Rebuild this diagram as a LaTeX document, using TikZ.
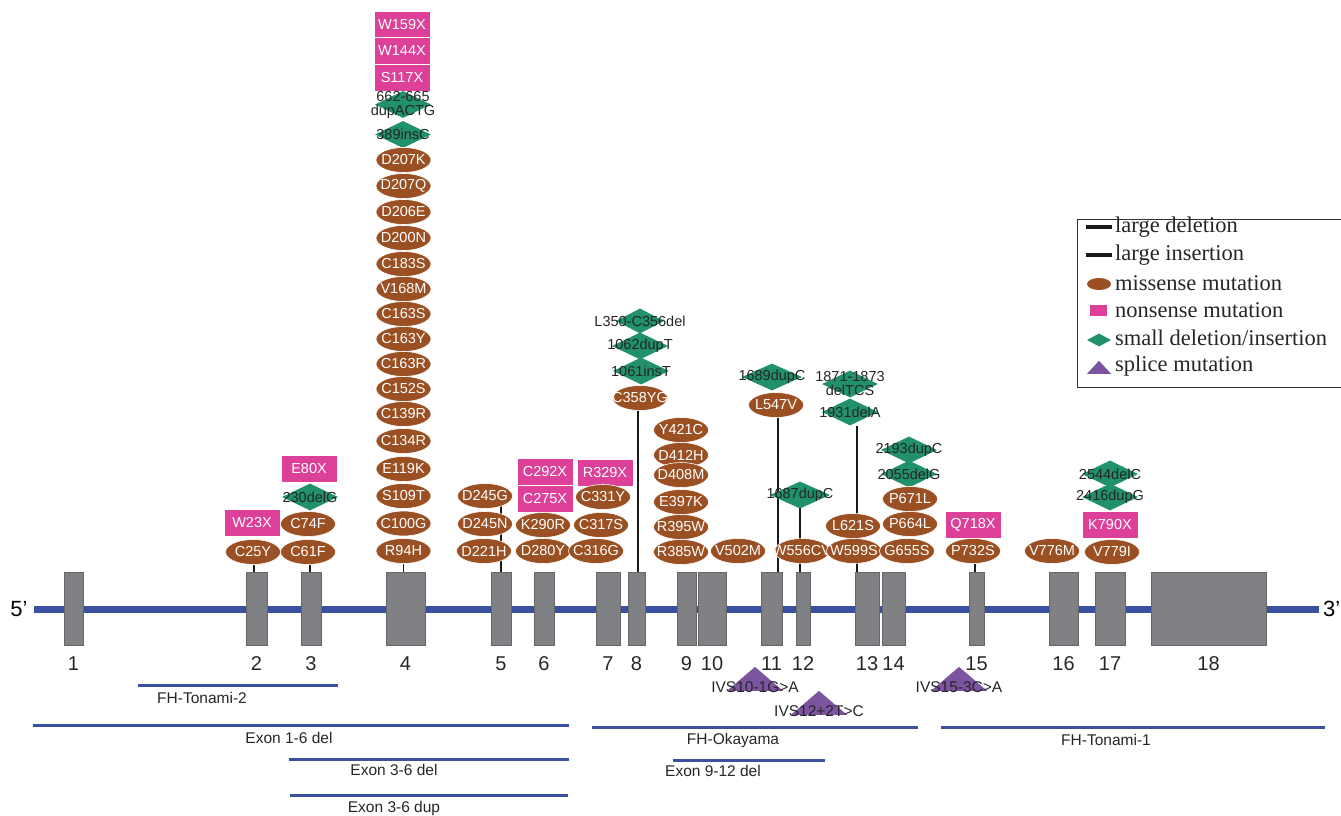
\documentclass[tikz,border=0pt]{standalone}
\usepackage{fontspec}
\setmainfont{Liberation Serif}
\setsansfont{Liberation Sans}
\usetikzlibrary{shapes.geometric,backgrounds}

\definecolor{bbblue}{RGB}{58,81,162}
\definecolor{misbrown}{RGB}{154,80,34}
\definecolor{nonpink}{RGB}{221,64,152}
\definecolor{indgreen}{RGB}{32,145,105}
\definecolor{splpurple}{RGB}{125,84,160}
\definecolor{exongray}{RGB}{128,129,133}

\begin{document}
\begin{tikzpicture}[x=1pt,y=-1pt,
    mtxt/.style={font=\sffamily\fontsize{14.5}{14}\selectfont, align=center, inner sep=0pt},
    mis/.style={ellipse, fill=misbrown, draw=white, line width=0.6pt, minimum width=55pt,
      minimum height=25pt, inner sep=0pt, label={[mtxt,text=white]center:#1}},
    non/.style={rectangle, fill=nonpink, draw=white, line width=0.6pt, minimum width=56pt,
      minimum height=27pt, inner sep=0pt, label={[mtxt,text=white]center:#1}},
    indel/.style={diamond, fill=indgreen, minimum width=56pt, minimum height=27pt,
      inner sep=0pt, label={[mtxt,text=black!85]center:#1}},
    splice/.style={isosceles triangle, shape border rotate=90, isosceles triangle stretches,
      minimum width=56pt, minimum height=24pt, fill=splpurple, inner sep=0pt},
    stxt/.style={font=\sffamily\fontsize{15.5}{15}\selectfont, text=black!85, inner sep=0pt},
    exon/.style={rectangle, fill=exongray, draw=black!60, line width=0.6pt,
      minimum height=73pt, inner sep=0pt},
    num/.style={font=\sffamily\fontsize{20}{20}\selectfont, text=black!85, inner sep=0pt},
    stem/.style={black!90, line width=1.6pt},
    bar/.style={bbblue, line width=3pt},
    btxt/.style={font=\sffamily\fontsize{15.5}{15}\selectfont, text=black!85, inner sep=0pt},
    lgd/.style={font=\fontsize{22.5}{22}\selectfont, text=black!85, anchor=west, inner sep=0pt},
  ]
  \useasboundingbox (0,0) rectangle (1341,816);

  % gene backbone and exons
  \node[font=\sffamily\fontsize{22}{22}\selectfont, inner sep=0pt] (p5) at (19,609) {5’};
  \node[font=\sffamily\fontsize{22}{22}\selectfont, inner sep=0pt, anchor=west] (p3) at (1323,609) {3’};
  \foreach \n/\xl/\xr in {1/64/83, 2/246/267, 3/301/321, 4/386/425, 5/491/511, 6/534/554,
      7/596/620, 8/628/645, 9/677/696, 10/698/726, 11/761/782, 12/796/810, 13/855/879,
      14/882/905, 15/969/984, 16/1049/1078, 17/1095/1125, 18/1151/1266} {
    \node[exon, minimum width={(\xr-\xl)*1pt}] (e\n) at ({(\xl+\xr)/2},608.5) {};
    \node[num] at (e\n.south |- 0,664) {\n};
  }

  % exon 2
  \node[non=W23X] (w23x) at (252,523) {};
  \node[mis=C25Y] (c25y) at (253,552) {};
  % exon 3
  \node[non=E80X] (e80x) at (309,469) {};
  \node[indel=230delG] (i230) at (310,497) {};
  \node[mis=C74F] (c74f) at (308,524) {};
  \node[mis=C61F] (c61f) at (308,552) {};
  % exon 4
  \node[non=W159X, minimum height=26.7pt] (w159x) at (402,24.3) {};
  \node[non=W144X, minimum height=26.7pt] (w144x) at (402,51) {};
  \node[non=S117X, minimum height=26.7pt] (s117x) at (402,77.7) {};
  \node[indel={662-665\\dupACTG}] (i662) at (403,104.5) {};
  \node[indel=389insC] (i389) at (403,134.5) {};
  \foreach \m/\y in {D207K/160, D207Q/186, D206E/212, D200N/238, C183S/264, V168M/289,
      C163S/314, C163Y/339, C163R/364, C152S/389, C139R/414, C134R/441, E119K/469,
      S109T/496, C100G/523.5} {
    \node[mis=\m] (m\m) at (403.5,\y) {};
  }
  \node[mis=R94H] (r94h) at (403.5,551) {};
  % exon 5
  \node[mis=D245G] (d245g) at (485,496) {};
  \node[mis=D245N] (d245n) at (485,524) {};
  \node[mis=D221H] (d221h) at (484,551) {};
  % exon 6
  \node[non=C292X] (c292x) at (545,472) {};
  \node[non=C275X] (c275x) at (545,499) {};
  \node[mis=K290R] (k290r) at (543,525) {};
  \node[mis=D280Y] (d280y) at (543,551) {};
  % exon 7
  \node[non=R329X] (r329x) at (605,473) {};
  \node[mis=C331Y] (c331y) at (603,497) {};
  \node[mis=C317S] (c317s) at (601,525) {};
  \node[mis=C316G] (c316g) at (596,551) {};
  % exon 8
  \node[indel=L350-C356del, minimum width=48pt, minimum height=25pt] (l350) at (640,321) {};
  \node[indel=1062dupT] (i1062) at (640,346) {};
  \node[indel=1061insT] (i1061) at (641,371) {};
  \node[mis=C358YG] (c358yg) at (640,398) {};
  % exon 9 and 10
  \foreach \m/\y in {Y421C/430, D412H/455, D408M/475, E397K/502, R395W/527, R385W/552} {
    \node[mis=\m] (m\m) at (681,\y) {};
  }
  \node[mis=V502M] (v502m) at (738,551) {};
  % exon 11 and 12
  \node[indel=1689dupC, minimum width=60pt] (i1689) at (772,377) {};
  \node[mis=L547V] (l547v) at (776,405) {};
  \node[indel=1687dupC, minimum width=60pt] (i1687) at (800,495) {};
  \node[mis=W556CV] (w556cv) at (802,551) {};
  % exon 13
  \node[indel={1871-1873\\delTCS}] (i1871) at (850,384) {};
  \node[indel=1931delA] (i1931) at (850,412) {};
  \node[mis=L621S] (l621s) at (853,526) {};
  \node[mis=W599S] (w599s) at (854,551) {};
  % exon 14
  \node[indel=2193dupC] (i2193) at (909,450) {};
  \node[indel=2055delG] (i2055) at (909,474) {};
  \node[mis=P671L] (p671l) at (910,499) {};
  \node[mis=P664L] (p664l) at (910,524) {};
  \node[mis=G655S] (g655s) at (907,551) {};
  % exon 15 to 17
  \node[non=Q718X] (q718x) at (973,525) {};
  \node[mis=P732S] (p732s) at (973,551) {};
  \node[mis=V776M] (v776m) at (1052,551) {};
  \node[indel=2544delC] (i2544) at (1110,474) {};
  \node[indel=2416dupG] (i2416) at (1110,497) {};
  \node[non=K790X] (k790x) at (1110,525) {};
  \node[mis=V779I] (v779i) at (1112,552) {};

  % splice mutations
  \node[splice] (s10) at (755,680.5) {};
  \node[stxt] at (755,687) {IVS10-1G>A};
  \node[splice] (s12) at (819,704.5) {};
  \node[stxt] at (819,711) {IVS12+2T>C};
  \node[splice] (s15) at (959,680.5) {};
  \node[stxt] at (959,687) {IVS15-3C>A};

  % stems and backbone behind
  \begin{scope}[on background layer]
    \draw[bbblue, line width=7pt] (p5.east) ++(6,0) coordinate (bbl) -- (1319,609) coordinate (bbr);
    \draw[stem] ([xshift=1pt]c25y.south) -- ([xshift=1pt]c25y.south |- e2.north);
    \draw[stem] ([xshift=2pt]c61f.south) -- ([xshift=2pt]c61f.south |- e3.north);
    \draw[stem] (r94h.south) -- (r94h.south |- e4.north);
    \draw[stem] (e5.north |- d245g) -- (e5.north);
    \draw[stem] ([xshift=-2pt]c358yg.south) -- ([xshift=-2pt]c358yg.south |- e8.north);
    \draw[stem] ([xshift=2pt]l547v.south) -- ([xshift=2pt]l547v.south |- e11.north);
    \draw[stem] (i1687.center) -- (i1687.center |- e12.north);
    \draw[stem] ([xshift=7pt]i1931.south) -- ([xshift=7pt]i1931.south |- e13.north);
    \draw[stem] ([xshift=2pt]p732s.south) -- ([xshift=2pt]p732s.south |- e15.north);
  \end{scope}

  % large deletions and insertions
  \draw[bar] (138,685) coordinate (t2a) -- (338,685) coordinate (t2b);
  \node[btxt] at (202,698) {FH-Tonami-2};
  \draw[bar] (33,725) coordinate (d16a) -- (569,725) coordinate (d16b);
  \node[btxt] at (289,738) {Exon 1-6 del};
  \draw[bar] (289,759) coordinate (d36a) -- (569,759) coordinate (d36b);
  \node[btxt] at (394,770) {Exon 3-6 del};
  \draw[bar] (290,795) coordinate (u36a) -- (568,795) coordinate (u36b);
  \node[btxt] at (394,808) {Exon 3-6 dup};
  \draw[bar] (592,727) coordinate (oka) -- (918,727) coordinate (okb);
  \node[btxt] at (733,740) {FH-Okayama};
  \draw[bar] (673,760) coordinate (d912a) -- (825,760) coordinate (d912b);
  \node[btxt] at (713,771) {Exon 9-12 del};
  \draw[bar] (941,727) coordinate (t1a) -- (1325,727) coordinate (t1b);
  \node[btxt] at (1106,740) {FH-Tonami-1};

  % legend
  \draw[black!80, line width=0.8pt] (1077,219) rectangle (1345,387);
  \draw[black!90, line width=4pt] (1086,227) -- (1112,227);
  \node[lgd] (lg1) at (1115,227) {large deletion};
  \draw[black!90, line width=4pt] (1086,255) -- (1112,255);
  \node[lgd] (lg2) at (1115,255) {large insertion};
  \node[ellipse, fill=misbrown, minimum width=24pt, minimum height=12pt, inner sep=0pt] (lgm) at (1099,284) {};
  \node[lgd] (lg3) at (1115,283) {missense mutation};
  \node[rectangle, fill=nonpink, minimum width=17pt, minimum height=11pt, inner sep=0pt] (lgn) at (1098.5,310.5) {};
  \node[lgd] (lg4) at (1115,310) {nonsense mutation};
  \node[diamond, fill=indgreen, minimum width=24pt, minimum height=13pt, inner sep=0pt] (lgi) at (1099,340) {};
  \node[lgd] (lg5) at (1115,338) {small deletion/insertion};
  \node[splice, minimum width=24pt, minimum height=13pt] (lgs) at (1099,368.5) {};
  \node[lgd] (lg6) at (1115,366) {splice mutation};
\end{tikzpicture}
\end{document}
